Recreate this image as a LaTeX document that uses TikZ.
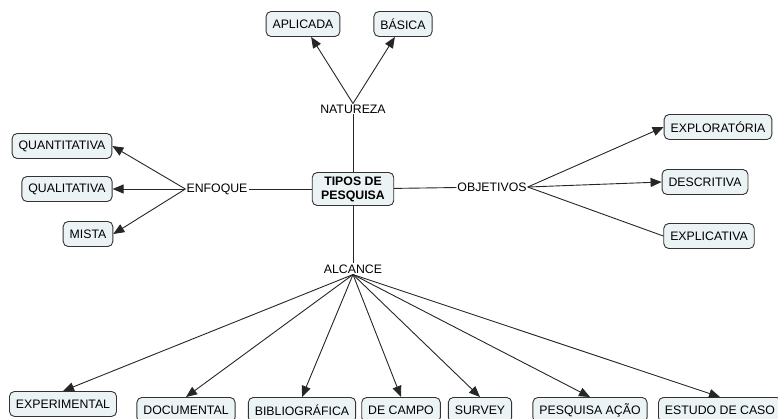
\documentclass[tikz,border=0pt]{standalone}
\usepackage{fontspec}
\setmainfont{Liberation Sans}
\usetikzlibrary{arrows.meta,positioning}
\definecolor{BoxFill}{HTML}{EBF3F5}
\definecolor{BoxLine}{HTML}{333333}
\definecolor{LinkGray}{HTML}{262626}

\begin{document}
\begin{tikzpicture}[x=1pt,y=-1pt,
    every node/.style={font=\fontsize{12.3}{14}\selectfont},
    box/.style={draw=BoxLine,fill=BoxFill,rounded corners=5pt,inner xsep=6.5pt,minimum height=25pt,line width=0.9pt},
    tag/.style={inner sep=1pt},
    link/.style={LinkGray,line width=0.9pt},
    arr/.style={link,-{Triangle[length=11pt,width=9pt]}}]
      \useasboundingbox (0,0) rectangle (778,418);

      \node[box,align=center,inner xsep=9pt,inner ysep=4pt,font=\fontsize{12.3}{14}\selectfont\bfseries] (tipos) at (353,189) {TIPOS DE\\PESQUISA};

      \node[tag] (natureza) at (353,109) {NATUREZA};
      \node[box] (aplicada) at (303,24) {APLICADA};
      \node[box] (basica) at (403,24) {BÁSICA};

      \node[tag] (enfoque) at (217,189) {ENFOQUE};
      \node[box] (quanti) at (62,146) {QUANTITATIVA};
      \node[box] (quali) at (67,189) {QUALITATIVA};
      \node[box] (mista) at (88,234) {MISTA};

      \node[tag] (objetivos) at (492,187) {OBJETIVOS};
      \node[box] (explor) at (718,127) {EXPLORATÓRIA};
      \node[box] (descr) at (705,182) {DESCRITIVA};
      \node[box] (explic) at (709,236) {EXPLICATIVA};

      \node[tag] (alcance) at (353,269) {ALCANCE};
      \node[box,anchor=north] (experim) at (63,391) {EXPERIMENTAL};
      \node[box,anchor=north] (docum) at (186,397) {DOCUMENTAL};
      \node[box,anchor=north] (biblio) at (302,397) {BIBLIOGRÁFICA};
      \node[box,anchor=north] (campo) at (401,397) {DE CAMPO};
      \node[box,anchor=north] (survey) at (480,397) {SURVEY};
      \node[box,anchor=north] (acao) at (590,397) {PESQUISA AÇÃO};
      \node[box,anchor=north] (caso) at (720,397) {ESTUDO DE CASO};

      \draw[link] (natureza) -- (tipos);
      \draw[arr] (natureza.north) -- (aplicada);
      \draw[arr] (natureza.north) -- (basica);

      \draw[link] (enfoque) -- (tipos);
      \draw[arr] (enfoque.west) -- (quanti.east);
      \draw[arr] (enfoque.west) -- (quali.east);
      \draw[arr] (enfoque.west) -- (mista.east);

      \draw[link] (tipos) -- (objetivos);
      \draw[arr] (objetivos.east) -- (explor.west);
      \draw[arr] (objetivos.east) -- (descr.west);
      \draw[link] (objetivos.east) -- (explic.west);

      \draw[link] (tipos) -- (alcance);
      \draw[arr] (alcance.south) -- (experim.north);
      \draw[arr] (alcance.south) -- (docum.north);
      \draw[arr] (alcance.south) -- (biblio.north);
      \draw[arr] (alcance.south) -- (campo.north);
      \draw[arr] (alcance.south) -- (survey.north);
      \draw[arr] (alcance.south) -- (acao.north);
      \draw[arr] (alcance.south) -- (caso.north);
    \end{tikzpicture}
\end{document}
